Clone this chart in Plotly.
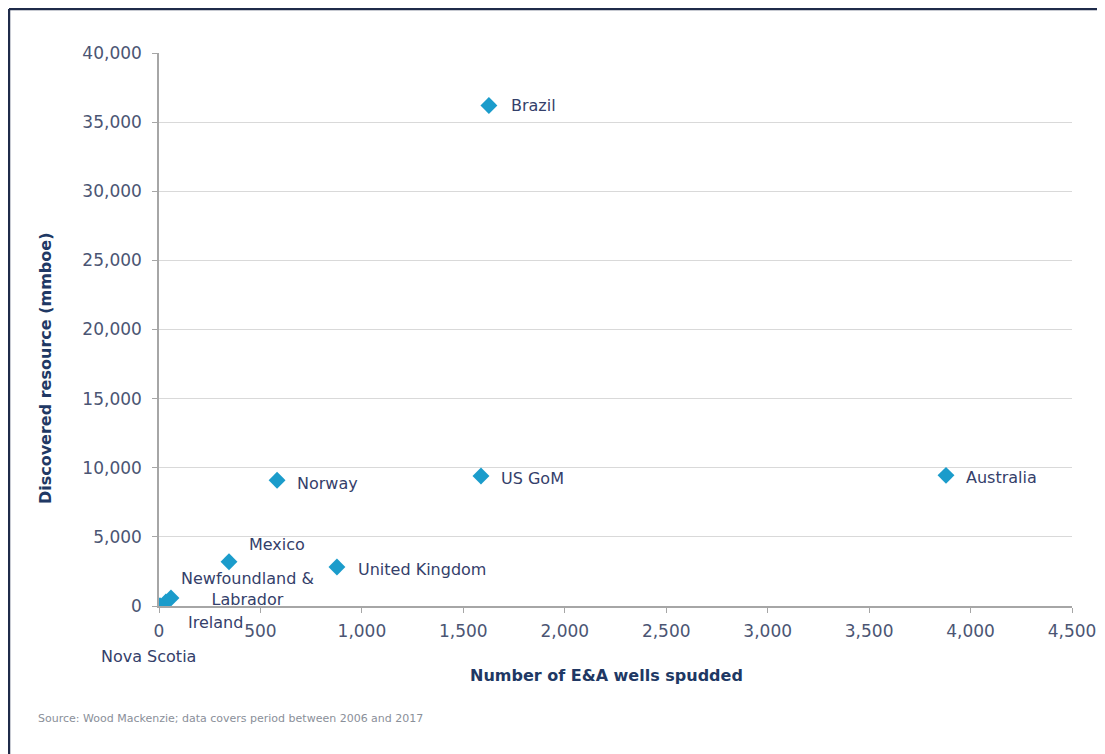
import plotly.graph_objects as go

countries = ["Brazil", "Norway", "US GoM", "Australia", "United Kingdom",
             "Mexico", "Newfoundland &<br>Labrador", "Ireland", "Nova Scotia"]
wells = [1626, 582, 1587, 3879, 877, 345, 59, 34, 5]
resource = [36200, 9100, 9400, 9450, 2820, 3200, 580, 290, 30]
x_ticks = [0, 500, 1000, 1500, 2000, 2500, 3000, 3500, 4000, 4500]
y_ticks = [0, 5000, 10000, 15000, 20000, 25000, 30000, 35000, 40000]

# label offsets (pixels) relative to each marker
label_dx = [20, 18, 18, 18, 19, 18, 77, 50, -12]
label_dy = [0, -3, -2, -2, -2, 17, 9, -21, -51]
label_anchor = ["left", "left", "left", "left", "left", "left", "center", "center", "center"]

MARK = "#1b9ccb"
TXT = "#34406a"
TICK = "#4b5573"
TITLE = "#203864"
FONT = "DejaVu Sans, sans-serif"

fig = go.Figure()
fig.add_trace(go.Scatter(
    x=wells, y=resource, mode="markers",
    marker=dict(symbol="diamond", size=13, color=MARK),
    hoverinfo="skip", showlegend=False,
))

for c, xv, yv, dx, dy, a in zip(countries, wells, resource, label_dx, label_dy, label_anchor):
    fig.add_annotation(x=xv, y=yv, text=c, showarrow=False, xanchor=a, yanchor="middle",
                       xshift=dx, yshift=dy, align="center",
                       font=dict(family=FONT, size=16, color=TXT))

fig.add_annotation(xref="paper", yref="paper", x=0.49, y=-0.125,
                   text="<b>Number of E&A wells spudded</b>", showarrow=False,
                   xanchor="center", yanchor="middle",
                   font=dict(family=FONT, size=16, color=TITLE))
fig.add_annotation(xref="paper", yref="paper", x=-0.125, y=0.43,
                   text="<b>Discovered resource (mmboe)</b>", showarrow=False, textangle=-90,
                   xanchor="center", yanchor="middle",
                   font=dict(family=FONT, size=16, color=TITLE))
fig.add_annotation(xref="paper", yref="paper", x=-0.135, y=-0.203,
                   text="Source: Wood Mackenzie; data covers period between 2006 and 2017",
                   showarrow=False, xanchor="left", yanchor="middle",
                   font=dict(family=FONT, size=11, color="#8a8f99"))

# frame lines (top and left)
fig.add_shape(type="line", xref="paper", yref="paper", x0=-0.1643, x1=1.04, y0=1.0796, y1=1.0796,
              line=dict(color="#1f2b4a", width=2.5))
fig.add_shape(type="line", xref="paper", yref="paper", x0=-0.1643, x1=-0.1643, y0=-0.3, y1=1.0796,
              line=dict(color="#1f2b4a", width=2.5))

fig.update_xaxes(range=[0, 4500], tickvals=x_ticks, tickformat=",d",
                 showgrid=False, zeroline=False, showline=True, linecolor="#a6a6a6", linewidth=1.5,
                 ticks="outside", ticklen=5, tickcolor="#a6a6a6", ticklabelstandoff=4,
                 tickfont=dict(family=FONT, size=17, color=TICK))
fig.update_yaxes(range=[0, 40000], tickvals=y_ticks, tickformat=",d",
                 showgrid=True, gridcolor="#d9d9d9", gridwidth=1.2, zeroline=False,
                 showline=True, linecolor="#a6a6a6", linewidth=1.5,
                 ticks="outside", ticklen=5, tickcolor="#a6a6a6", ticklabelstandoff=7,
                 tickfont=dict(family=FONT, size=17, color=TICK))

fig.update_layout(
    width=1105, height=754,
    margin=dict(l=151, r=41, t=45, b=156),
    paper_bgcolor="white", plot_bgcolor="white",
    font=dict(family=FONT),
)

fig.write_html("out.html")
